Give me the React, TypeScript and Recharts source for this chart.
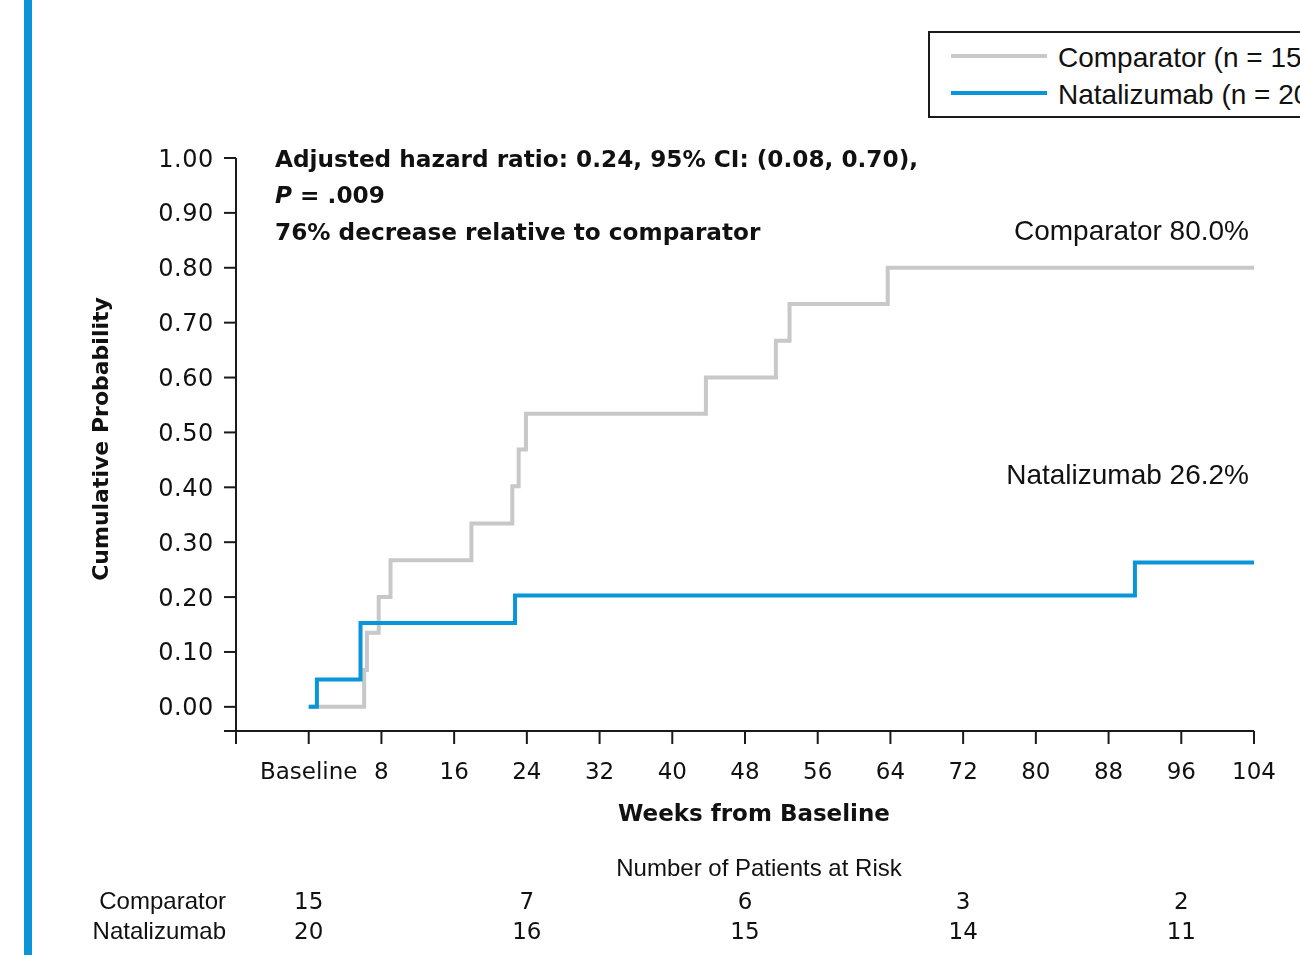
import React from 'react';
import { LineChart, Line, XAxis, YAxis, Legend } from 'recharts';

// --- Data ---
const weekTicks = [-8, 0, 8, 16, 24, 32, 40, 48, 56, 64, 72, 80, 88, 96, 104];
const probTicks = [-0.044, 0, 0.1, 0.2, 0.3, 0.4, 0.5, 0.6, 0.7, 0.8, 0.9, 1.0];

const comparatorWeeks = [0, 6.1, 6.4, 7.7, 9.0, 17.9, 22.4, 23.1, 23.9, 43.7, 51.4, 52.9, 63.7, 104];
const comparatorProb = [0, 0.067, 0.135, 0.2, 0.267, 0.334, 0.402, 0.469, 0.534, 0.6, 0.667, 0.734, 0.8, 0.8];

const natalizumabWeeks = [0, 0.9, 5.7, 22.7, 90.9, 104];
const natalizumabProb = [0, 0.05, 0.153, 0.203, 0.263, 0.263];

const riskWeeks = [0, 24, 48, 72, 96];
const comparatorAtRisk = [15, 7, 6, 3, 2];
const natalizumabAtRisk = [20, 16, 15, 14, 11];

const comparatorData = comparatorWeeks.map((week, i) => ({ week, p: comparatorProb[i] }));
const natalizumabData = natalizumabWeeks.map((week, i) => ({ week, p: natalizumabProb[i] }));

const GRAY = '#c8c8c8';
const BLUE = '#0a96d6';
const INK = '#111';
const AXIS = '#1a1a1a';
const SANS = '"Liberation Sans", Arial, sans-serif';
const WIDE = '"DejaVu Sans", sans-serif';

const W = 1292;
const H = 939;

const weekLabel = (v: number) => (v < 0 ? '' : v === 0 ? 'Baseline' : String(v));

// x tick: week label, plus the at-risk counts underneath the same tick position
const WeekTick = (props: any) => {
  const { x, y, payload } = props;
  const v = payload.value;
  const idx = riskWeeks.indexOf(v);
  return (
    <g fontFamily={WIDE} fontSize={23} fill={INK} textAnchor="middle">
      <text x={x} y={y} dy="0.71em">{weekLabel(v)}</text>
      {idx >= 0 && (
        <>
          <text x={x} y={y + 146}>{comparatorAtRisk[idx]}</text>
          <text x={x} y={y + 176}>{natalizumabAtRisk[idx]}</text>
        </>
      )}
    </g>
  );
};

// legend box runs off the right edge of the page, like the original figure
const renderLegend = (props: any) => {
  const { payload = [] } = props;
  return (
    <div
      style={{
        position: 'fixed',
        left: 928,
        top: 31,
        width: 440,
        height: 83,
        borderTop: `2px solid ${AXIS}`,
        borderBottom: `2px solid ${AXIS}`,
        borderLeft: `2px solid ${AXIS}`,
        background: '#fff',
      }}
    >
      {payload.map((item: any, i: number) => (
        <div
          key={item.value}
          style={{
            position: 'absolute',
            left: 21,
            top: 6 + i * 37,
            height: 34,
            display: 'flex',
            alignItems: 'center',
            whiteSpace: 'nowrap',
            fontFamily: SANS,
            fontSize: 28,
            color: INK,
          }}
        >
          <span style={{ display: 'inline-block', width: 96, height: 4, background: item.color, marginRight: 11 }} />
          <span style={{ position: 'relative', top: 2 }}>{item.value}</span>
        </div>
      ))}
    </div>
  );
};

export default function App() {
  return (
    <div>
      <div style={{ position: 'fixed', left: 24, top: 0, width: 8, height: 955, background: BLUE }} />
      <div style={{ position: 'relative', width: W, height: H }}>
        <LineChart width={W} height={H} margin={{ top: 150, right: 46, left: 60, bottom: 54 }}>
          <XAxis
            xAxisId="main"
            dataKey="week"
            type="number"
            domain={[-8, 104]}
            ticks={weekTicks}
            interval={0}
            allowDataOverflow
            tickSize={13}
            tickMargin={19}
            height={162}
            axisLine={{ stroke: AXIS, strokeWidth: 2 }}
            tickLine={{ stroke: AXIS, strokeWidth: 2 }}
            tick={<WeekTick />}
          />
          <YAxis
            type="number"
            domain={[-0.044, 1]}
            ticks={probTicks}
            interval={0}
            allowDataOverflow
            tickFormatter={(v: number) => (v < 0 ? '' : v.toFixed(2))}
            width={168}
            tickSize={12}
            tickMargin={10}
            axisLine={{ stroke: AXIS, strokeWidth: 2 }}
            tickLine={{ stroke: AXIS, strokeWidth: 2 }}
            tick={{ fontSize: 24, fontFamily: WIDE, fill: INK, letterSpacing: 0.6 }}
          />
          <Legend
            layout="vertical"
            align="center"
            verticalAlign="middle"
            content={renderLegend}
            wrapperStyle={{ top: 23, left: 920, width: 1, height: 1 }}
          />
          <Line
            xAxisId="main"
            data={comparatorData}
            dataKey="p"
            name="Comparator (n = 15)"
            type="stepAfter"
            stroke={GRAY}
            strokeWidth={4}
            dot={false}
            isAnimationActive={false}
          />
          <Line
            xAxisId="main"
            data={natalizumabData}
            dataKey="p"
            name="Natalizumab (n = 20)"
            type="stepAfter"
            stroke={BLUE}
            strokeWidth={4}
            dot={false}
            isAnimationActive={false}
          />
        </LineChart>
        <svg
          width={W}
          height={H}
          style={{ position: 'absolute', left: 0, top: 0, pointerEvents: 'none' }}
        >
          <text
            x={100}
            y={431}
            transform="rotate(-90, 100, 431)"
            textAnchor="middle"
            fontSize={22}
            fontWeight="bold"
            fontFamily={WIDE}
            fill={INK}
          >
            Cumulative Probability
          </text>
          <g fontFamily={WIDE} fontWeight="bold" fontSize={23.2} fill={INK}>
            <text x={267} y={158.5}>Adjusted hazard ratio: 0.24, 95% CI: (0.08, 0.70),</text>
            <text x={267} y={195}>
              <tspan fontStyle="italic">P</tspan> = .009
            </text>
            <text x={267} y={232}>76% decrease relative to comparator</text>
          </g>
          <g fontFamily={SANS} fontSize={28} fill={INK} textAnchor="end">
            <text x={1241} y={232}>Comparator 80.0%</text>
            <text x={1241} y={476}>Natalizumab 26.2%</text>
          </g>
          <text x={746} y={813} textAnchor="middle" fontSize={23} fontWeight="bold" fontFamily={WIDE} fill={INK}>
            Weeks from Baseline
          </text>
          <text x={751} y={868} textAnchor="middle" fontSize={24} fontFamily={SANS} fill={INK}>
            Number of Patients at Risk
          </text>
          <g fontFamily={SANS} fontSize={24} fill={INK} textAnchor="end">
            <text x={218} y={901}>Comparator</text>
            <text x={218} y={931}>Natalizumab</text>
          </g>
        </svg>
      </div>
    </div>
  );
}
